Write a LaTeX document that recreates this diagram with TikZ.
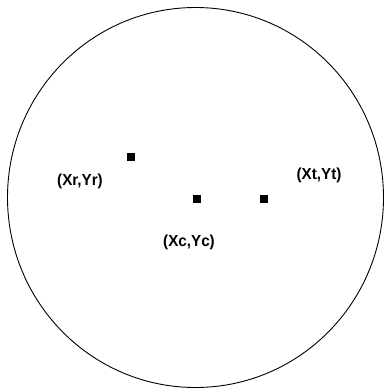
\documentclass[tikz,border=0pt]{standalone}
\usepackage{fontspec}
\setmainfont{Liberation Sans}
\begin{document}
\begin{tikzpicture}[x=1pt, y=-1pt, every node/.style={font=\fontsize{16}{16}\selectfont\bfseries},
  pnt/.style={fill=black, minimum size=8pt, inner sep=0pt},
  lbl/.style={inner sep=0pt, xscale=0.95}]
  \useasboundingbox (0,0) rectangle (383,391);
  \draw[line width=0.9pt] (195.5,197.5) ellipse [x radius=188, y radius=190];
  \node[pnt] (ptr) at (131,157) {};
  \node[pnt] (ptc) at (197,199) {};
  \node[pnt] (ptt) at (264,199) {};
  \node[lbl] (labr) at (80,181) {(Xr,Yr)};
  \node[lbl] (labc) at (189,242) {(Xc,Yc)};
  \node[lbl] (labt) at (319,175) {(Xt,Yt)};
\end{tikzpicture}
\end{document}
